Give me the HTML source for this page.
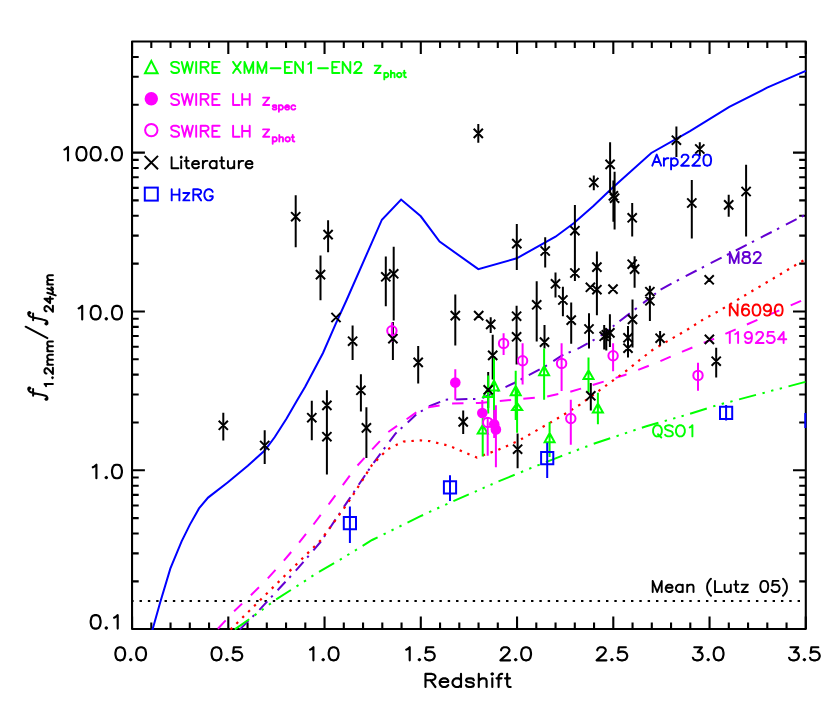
<!DOCTYPE html>
<html><head><meta charset="utf-8"><title>chart</title><style>html,body{margin:0;padding:0;background:#fff}svg{display:block}</style></head><body>
<svg width="830" height="713" viewBox="0 0 830 713">
<title>f1.2mm/f24um versus Redshift</title>
<desc>Log plot of f_1.2mm / f_24um (0.1 to 500) versus Redshift (0.0 to 3.5). Legend: SWIRE XMM-EN1-EN2 z_phot (green triangles), SWIRE LH z_spec (filled magenta circles), SWIRE LH z_phot (open magenta circles), Literature (black crosses), HzRG (blue squares). Template curves: Arp220, M82, N6090, I19254, QSO1. Dotted line: Mean (Lutz 05).</desc>
<rect width="830" height="713" fill="#fff"/>
<defs><clipPath id="c"><rect x="131.1" y="40.5" width="675.8" height="589.5"/></clipPath></defs>
<path d="M132.05 41.5v12.4M132.05 629.0v-12.4M151.30 41.5v6.4M151.30 629.0v-6.4M170.55 41.5v6.4M170.55 629.0v-6.4M189.80 41.5v6.4M189.80 629.0v-6.4M209.05 41.5v6.4M209.05 629.0v-6.4M228.30 41.5v12.4M228.30 629.0v-12.4M247.55 41.5v6.4M247.55 629.0v-6.4M266.80 41.5v6.4M266.80 629.0v-6.4M286.05 41.5v6.4M286.05 629.0v-6.4M305.30 41.5v6.4M305.30 629.0v-6.4M324.55 41.5v12.4M324.55 629.0v-12.4M343.80 41.5v6.4M343.80 629.0v-6.4M363.05 41.5v6.4M363.05 629.0v-6.4M382.30 41.5v6.4M382.30 629.0v-6.4M401.55 41.5v6.4M401.55 629.0v-6.4M420.80 41.5v12.4M420.80 629.0v-12.4M440.05 41.5v6.4M440.05 629.0v-6.4M459.30 41.5v6.4M459.30 629.0v-6.4M478.55 41.5v6.4M478.55 629.0v-6.4M497.80 41.5v6.4M497.80 629.0v-6.4M517.05 41.5v12.4M517.05 629.0v-12.4M536.30 41.5v6.4M536.30 629.0v-6.4M555.55 41.5v6.4M555.55 629.0v-6.4M574.80 41.5v6.4M574.80 629.0v-6.4M594.05 41.5v6.4M594.05 629.0v-6.4M613.30 41.5v12.4M613.30 629.0v-12.4M632.55 41.5v6.4M632.55 629.0v-6.4M651.80 41.5v6.4M651.80 629.0v-6.4M671.05 41.5v6.4M671.05 629.0v-6.4M690.30 41.5v6.4M690.30 629.0v-6.4M709.55 41.5v12.4M709.55 629.0v-12.4M728.80 41.5v6.4M728.80 629.0v-6.4M748.05 41.5v6.4M748.05 629.0v-6.4M767.30 41.5v6.4M767.30 629.0v-6.4M786.55 41.5v6.4M786.55 629.0v-6.4M805.80 41.5v12.4M805.80 629.0v-12.4M132.1 581.33h6.6M805.8 581.33h-6.6M132.1 553.36h6.6M805.8 553.36h-6.6M132.1 533.51h6.6M805.8 533.51h-6.6M132.1 518.12h6.6M805.8 518.12h-6.6M132.1 505.54h6.6M805.8 505.54h-6.6M132.1 494.91h6.6M805.8 494.91h-6.6M132.1 485.69h6.6M805.8 485.69h-6.6M132.1 477.57h6.6M805.8 477.57h-6.6M132.1 470.30h12.8M805.8 470.30h-12.8M132.1 422.48h6.6M805.8 422.48h-6.6M132.1 394.51h6.6M805.8 394.51h-6.6M132.1 374.66h6.6M805.8 374.66h-6.6M132.1 359.27h6.6M805.8 359.27h-6.6M132.1 346.69h6.6M805.8 346.69h-6.6M132.1 336.06h6.6M805.8 336.06h-6.6M132.1 326.84h6.6M805.8 326.84h-6.6M132.1 318.72h6.6M805.8 318.72h-6.6M132.1 311.45h12.8M805.8 311.45h-12.8M132.1 263.63h6.6M805.8 263.63h-6.6M132.1 235.66h6.6M805.8 235.66h-6.6M132.1 215.81h6.6M805.8 215.81h-6.6M132.1 200.42h6.6M805.8 200.42h-6.6M132.1 187.84h6.6M805.8 187.84h-6.6M132.1 177.21h6.6M805.8 177.21h-6.6M132.1 167.99h6.6M805.8 167.99h-6.6M132.1 159.87h6.6M805.8 159.87h-6.6M132.1 152.60h12.8M805.8 152.60h-12.8M132.1 104.78h6.6M805.8 104.78h-6.6M132.1 76.81h6.6M805.8 76.81h-6.6M132.1 56.96h6.6M805.8 56.96h-6.6" stroke="#000" stroke-width="2.1" fill="none"/>
<rect x="132.05" y="41.50" width="673.75" height="587.50" stroke="#000" stroke-width="2.1" fill="none" stroke-linejoin="round"/>
<g clip-path="url(#c)">
<path d="M131.2 601.0H806" stroke="#000" stroke-width="2.2" stroke-dasharray="2.4 5.93" fill="none"/>
<path d="M148.0 645.0 L152.9 628.3 L160.3 602.0 L170.4 568.4 L181.6 541.4 L189.9 524.6 L199.0 508.4 L208.1 497.6 L227.6 482.5 L247.8 465.7 L264.7 450.5 L274.8 437.0 L286.6 418.5 L297.3 400.0 L305.3 386.4 L323.0 353.0 L335.8 323.6 L346.6 300.0 L381.9 219.7 L401.1 199.6 L420.8 216.3 L439.6 241.6 L478.3 269.1 L516.8 258.3 L555.5 236.7 L574.0 223.0 L593.4 206.0 L612.0 188.3 L651.3 153.0 L690.0 131.2 L729.3 106.8 L767.1 87.7 L805.8 70.9" stroke="#0000ff" stroke-width="2.00" fill="none" />
<path d="M233.2 636.6L234.9 634.9M239.9 629.4L240.4 628.9L248.4 620.9M252.5 616.8L254.2 615.1M259.4 609.9L267.3 601.4M271.1 597.3L272.7 595.6M277.6 590.3L285.5 581.8M289.3 577.7L290.9 576.0M295.8 570.7L303.5 561.8M307.2 557.5L308.7 555.8M313.4 550.3L320.9 541.5M324.0 536.9L325.3 534.9M329.2 529.0L335.6 519.4M338.7 514.8L340.0 512.9M343.9 506.9L348.5 500.1L350.4 497.3M353.5 492.7L354.7 490.8M358.7 484.8L365.1 475.2M368.2 470.6L369.5 468.7M373.6 462.8L380.5 453.6M383.8 449.1L385.2 447.3M389.5 441.6L395.6 433.4L396.6 432.5M400.7 428.7L402.4 427.2M407.7 422.4L416.2 414.6M420.8 411.5L422.8 410.3M428.9 406.7L430.0 406.0L440.2 401.9M445.7 399.7L448.1 399.6M455.7 399.4L467.4 399.1M473.0 398.9L475.4 398.9M482.4 398.0L492.4 393.3M497.3 391.0L499.3 390.0M505.5 387.1L514.2 383.0L515.7 382.2M520.6 379.6L522.6 378.5M528.8 375.2L539.7 369.4M544.9 366.6L546.9 365.2M553.3 361.1L562.0 355.5L563.4 354.9M568.6 352.6L570.8 351.7M577.5 348.8L580.0 347.7L587.7 343.4M592.6 340.7L594.6 339.5M600.7 335.8L608.9 329.5M612.8 326.5L614.5 325.2M619.5 321.3L629.8 313.4M634.7 309.6L636.8 308.0M643.1 303.1L650.7 297.2M654.4 294.4L655.9 293.2M660.6 289.6L660.6 289.6L671.5 283.7M676.8 280.9L679.0 279.7M685.7 276.1L685.7 276.1L696.6 270.5M701.8 267.8L704.0 266.7M710.7 263.2L710.7 263.2L721.6 257.7M726.9 255.0L729.1 253.9M735.8 250.5L735.8 250.5L746.7 244.9M751.9 242.2L754.1 241.1M760.8 237.6L760.8 237.6L771.7 232.0M777.0 229.3L779.2 228.2M785.9 224.7L785.9 224.7L796.6 219.2M801.7 216.6L803.9 215.5" stroke="#6400d2" stroke-width="2.00" fill="none"/>
<path d="M207.5 639.0L209.1 637.4M217.9 628.8L225.7 620.4M234.1 611.3L242.1 603.6M250.9 595.2L259.0 587.2M267.8 578.4L275.5 569.9M283.9 560.6L291.2 552.0M299.1 542.6L306.0 533.9M313.5 524.5L320.7 514.9M328.6 504.5L330.0 502.7L335.4 495.3M342.8 485.2L349.8 475.7M357.5 465.5L364.5 457.8M372.2 449.4L379.9 441.1M388.3 432.0L397.1 425.9M406.6 419.2L416.3 412.4M428.2 407.6L430.0 406.9L439.6 405.4M452.1 403.6L463.5 403.3M475.9 403.1L478.9 403.0L487.4 402.2M499.8 401.0L511.1 400.0M523.3 398.8L534.8 397.7M547.2 396.4L558.3 394.1M570.3 391.7L580.0 388.9L581.1 388.6M592.7 385.0L603.7 381.6M615.6 377.9L624.8 375.0L626.5 374.3M638.2 369.9L638.2 369.9L648.8 365.7M660.4 361.2L660.4 361.2L670.7 356.7M682.0 351.9L682.4 351.7L692.4 347.5M703.7 342.8L704.2 342.6L714.1 338.7M725.4 333.9L735.7 329.3M746.9 324.5L757.4 319.9M768.8 314.9L779.3 310.3M790.7 305.3L801.1 300.8L801.1 300.8" stroke="#ff00ff" stroke-width="2.00" fill="none"/>
<path d="M224.6 635.4L226.3 633.7M230.5 629.5L231.0 629.0L232.2 627.8M236.4 623.7L238.1 622.0M242.3 617.8L244.0 616.1M248.2 612.0L249.9 610.3M254.1 606.1L255.8 604.5M260.0 600.3L261.7 598.6M265.9 594.5L267.6 592.8M271.8 588.6L273.5 586.9M277.7 582.8L279.4 581.1M283.6 576.9L285.3 575.3M289.6 571.1L291.3 569.4M295.5 565.3L297.2 563.6M301.4 559.4L303.1 557.7M307.3 553.6L309.0 551.9M313.2 547.7L314.9 546.1M319.1 541.9L320.8 540.2M324.3 535.5L325.7 533.5M329.2 528.7L330.6 526.8M334.0 522.0L335.5 520.1M338.9 515.3L340.3 513.4M343.8 508.6L345.2 506.6M348.7 501.8L349.9 499.8M353.1 494.8L354.4 492.8M357.5 487.8L358.8 485.8M362.0 480.8L363.3 478.8M366.4 473.8L367.7 471.7M370.9 466.7L372.1 464.8L372.2 464.7M376.3 460.6L378.0 458.9M382.2 454.7L383.9 453.0M388.2 448.9L390.3 447.9M395.7 445.3L397.8 444.3M403.2 441.8L403.5 441.6L405.5 441.4M411.4 441.0L413.8 440.8M419.7 440.3L420.0 440.3L422.1 440.5M428.0 441.0L430.0 441.2L430.3 441.3M436.1 442.6L438.4 443.2M444.2 444.6L446.5 445.1M452.1 447.0L454.3 447.9M459.7 450.2L461.9 451.2M467.3 453.5L469.5 454.4M475.0 456.8L476.9 457.6L477.2 457.5M482.7 455.5L485.0 454.6M490.5 452.6L492.8 451.8M498.3 449.8L498.5 449.7L500.5 448.8M505.9 446.4L508.1 445.4M513.5 443.0L515.7 442.0M521.0 439.3L523.0 438.2M528.2 435.2L530.3 434.1M535.4 431.1L537.5 429.9M542.6 427.0L544.7 425.8M549.8 422.9L551.9 421.7M557.0 418.7L559.0 417.5M564.1 414.5L564.9 414.0L566.2 413.2M571.2 410.1L573.2 408.8M578.2 405.7L580.0 404.6L580.3 404.4M585.0 400.9L587.0 399.5M591.7 396.0L593.7 394.6M598.5 391.1L600.4 389.7M605.2 386.2L607.1 384.8M611.9 381.4L613.8 379.9M618.6 376.5L620.5 375.0M625.3 371.6L625.8 371.2L627.2 370.1M631.8 366.4L633.7 364.9M638.3 361.2L639.2 360.4L640.1 359.7M644.8 356.0L646.7 354.5M651.3 350.9L652.5 350.0L653.3 349.5M658.4 346.5L660.4 345.3M665.5 342.3L666.7 341.6L667.6 341.1M672.7 338.1L674.8 336.9M679.9 334.0L682.0 332.8M687.1 329.8L688.0 329.3L689.2 328.5M694.1 325.3L696.1 324.0M701.1 320.8L702.0 320.2L703.1 319.6M708.3 316.7L710.4 315.6M715.6 312.7L717.7 311.6M722.8 308.6L724.9 307.4M730.0 304.3L732.0 303.1M737.1 300.1L739.2 298.8M744.2 295.8L746.3 294.6M751.4 291.5L753.4 290.3M758.5 287.3L760.6 286.1M765.6 283.0L767.7 281.8M772.8 278.8L774.8 277.5M779.9 274.5L782.0 273.3M787.0 270.2L789.1 269.0M794.2 266.0L796.2 264.7M801.3 261.7L803.4 260.5" stroke="#ff0000" stroke-width="2.20" fill="none"/>
<path d="M221.0 639.0L222.0 638.3M227.4 634.6L229.3 633.2M234.8 629.4L235.5 628.9L249.2 619.3M254.6 615.4L256.5 613.9M261.7 610.1L263.6 608.7M268.9 604.8L270.8 603.4M276.2 599.4L290.9 590.0M296.5 586.4L298.5 585.1M303.9 581.6L306.0 580.3M311.4 576.7L313.4 575.4M319.0 571.8L334.1 563.2M339.8 559.8L341.8 558.6M347.3 555.2L349.4 554.0M354.9 550.6L356.1 549.9L356.9 549.4M362.6 545.9L372.1 540.0L377.6 537.3M383.6 534.4L385.7 533.3M391.5 530.5L393.6 529.4M399.4 526.6L401.5 525.5M407.5 522.6L420.0 516.4L423.1 515.0M429.1 512.2L431.3 511.2M437.2 508.5L439.3 507.5M445.2 504.9L447.4 503.9M453.4 501.1L468.8 494.4M474.8 491.8L476.9 490.8M482.6 488.3L484.7 487.4M490.5 484.9L492.6 484.0M498.5 481.4L514.7 474.8M520.9 472.2L523.2 471.3M529.2 468.8L531.4 467.9M537.4 465.5L537.8 465.3L539.7 464.6M545.9 462.1L560.0 456.6L562.2 455.7M568.5 453.4L570.8 452.5M576.8 450.2L579.1 449.3M585.2 447.0L587.4 446.2M593.7 443.8L610.2 438.3M616.5 436.2L618.8 435.4M624.9 433.4L627.2 432.6M633.3 430.6L635.6 429.8M641.9 427.7L646.4 426.2L658.4 422.8M664.7 421.0L667.0 420.4M673.1 418.6L675.4 418.0M681.5 416.2L683.8 415.6M690.1 413.8L706.8 408.5M713.2 406.4L715.4 405.7M721.7 404.0L724.0 403.3M730.3 401.7L732.6 401.1M739.1 399.4L756.0 394.9M762.5 393.2L764.8 392.6M771.1 390.9L773.4 390.3M779.7 388.7L782.0 388.1M788.5 386.4L805.4 381.9" stroke="#00ff00" stroke-width="2.00" fill="none"/>
<path d="M223.3 412.8V440.4M264.7 430.3V464.0M295.7 195.3V247.3M328.1 220.2V252.2M320.5 255.6V300.3M352.6 325.5V359.9M385.8 256.6V306.2M393.7 246.7V320.4M392.9 322.1V359.9M418.2 346.1V383.4M360.9 374.2V411.6M326.9 390.3V474.6M311.8 400.8V440.2M366.4 407.2V457.9M478.3 124.1V142.8M516.8 223.9V270.1M545.2 237.3V267.5M574.9 205.0V281.0M555.5 272.6V297.5M562.9 286.7V316.2M571.2 302.5V343.7M536.7 281.2V341.5M455.3 294.6V345.5M490.7 317.2V332.9M516.6 305.8V364.4M544.5 325.0V348.6M492.7 334.8V379.6M488.2 372.0V408.0M463.2 410.5V434.0M517.6 433.5V468.3M593.8 175.6V190.3M610.1 142.2V192.0M613.4 180.5V221.7M614.6 171.7V229.5M632.2 203.1V236.5M676.4 126.5V156.9M699.8 142.2V156.0M691.8 180.1V238.5M728.7 194.8V216.7M746.1 164.8V236.4M596.9 251.4V315.3M634.6 256.3V287.7M649.9 285.8V321.0M589.0 313.2V348.6M604.2 325.0V349.6M606.3 328.5V350.5M609.9 314.2V347.0M632.5 299.5V347.6M628.0 326.0V357.4M660.1 330.9V345.7M716.2 347.8V377.6M590.8 383.0V410.5" stroke="#000" stroke-width="2" fill="none"/>
<path d="M494.0 358.1V418.4M494.0 380.5L499.0 390.5L489.0 390.5ZM482.7 414.0V456.5M482.7 425.0L487.7 433.6L477.7 433.6ZM488.2 375.4V413.6M488.2 388.0L493.2 397.0L483.2 397.0ZM515.7 370.8V420.0M515.7 386.0L520.7 395.2L510.7 395.2ZM517.1 390.0V432.7M517.1 402.9L522.1 410.0L512.1 410.0ZM544.1 348.6V399.7M544.1 366.0L549.1 375.3L539.1 375.3ZM549.6 421.9V457.0M549.6 433.0L554.6 442.3L544.6 442.3ZM588.5 357.5V392.8M588.5 370.2L593.5 379.1L583.5 379.1ZM597.9 392.8V424.2M597.9 403.6L602.9 412.4L592.9 412.4Z" stroke="#00ff00" stroke-width="2" fill="none" stroke-linejoin="miter"/>
<path d="M391.9 322.6V341.4M503.6 333.2V355.0M522.6 343.3V384.6M561.6 343.3V391.0M613.1 343.3V371.2M570.8 399.7V444.8M698.0 362.7V390.8M487.7 417.5V455.7" stroke="#ff00ff" stroke-width="2" fill="none"/>
<circle cx="391.9" cy="330.8" r="4.7" stroke="#ff00ff" stroke-width="2" fill="none"/>
<circle cx="503.6" cy="343.4" r="4.7" stroke="#ff00ff" stroke-width="2" fill="none"/>
<circle cx="522.6" cy="360.8" r="4.7" stroke="#ff00ff" stroke-width="2" fill="none"/>
<circle cx="561.6" cy="363.4" r="4.7" stroke="#ff00ff" stroke-width="2" fill="none"/>
<circle cx="613.1" cy="355.7" r="4.7" stroke="#ff00ff" stroke-width="2" fill="none"/>
<circle cx="570.8" cy="418.5" r="4.7" stroke="#ff00ff" stroke-width="2" fill="none"/>
<circle cx="698.0" cy="375.4" r="4.7" stroke="#ff00ff" stroke-width="2" fill="none"/>
<circle cx="487.7" cy="422.4" r="4.7" stroke="#ff00ff" stroke-width="2" fill="none"/>
<path d="M455.3 369.3V399.7M482.3 399.9V418.0M494.2 410.0V438.0M495.9 405.3V467.3" stroke="#ff00ff" stroke-width="2" fill="none"/>
<circle cx="455.3" cy="382.6" r="5.3" fill="#ff00ff"/>
<circle cx="482.3" cy="413.0" r="5.3" fill="#ff00ff"/>
<circle cx="494.2" cy="424.3" r="5.3" fill="#ff00ff"/>
<circle cx="495.9" cy="429.4" r="5.3" fill="#ff00ff"/>
<path d="M218.7 420.7l9.2 9.2M218.7 429.9l9.2 -9.2M260.1 440.9l9.2 9.2M260.1 450.1l9.2 -9.2M291.1 212.1l9.2 9.2M291.1 221.3l9.2 -9.2M323.5 230.0l9.2 9.2M323.5 239.2l9.2 -9.2M315.9 270.0l9.2 9.2M315.9 279.2l9.2 -9.2M331.4 312.9l9.2 9.2M331.4 322.1l9.2 -9.2M348.0 336.6l9.2 9.2M348.0 345.8l9.2 -9.2M381.2 272.2l9.2 9.2M381.2 281.4l9.2 -9.2M389.1 269.2l9.2 9.2M389.1 278.4l9.2 -9.2M388.3 334.1l9.2 9.2M388.3 343.3l9.2 -9.2M413.6 357.8l9.2 9.2M413.6 367.0l9.2 -9.2M356.3 385.7l9.2 9.2M356.3 394.9l9.2 -9.2M322.3 400.8l9.2 9.2M322.3 410.0l9.2 -9.2M307.2 413.1l9.2 9.2M307.2 422.3l9.2 -9.2M322.3 432.1l9.2 9.2M322.3 441.3l9.2 -9.2M361.8 423.3l9.2 9.2M361.8 432.5l9.2 -9.2M473.7 128.8l9.2 9.2M473.7 138.0l9.2 -9.2M512.2 239.0l9.2 9.2M512.2 248.2l9.2 -9.2M540.6 246.4l9.2 9.2M540.6 255.6l9.2 -9.2M570.3 226.1l9.2 9.2M570.3 235.3l9.2 -9.2M570.3 268.4l9.2 9.2M570.3 277.6l9.2 -9.2M550.9 279.2l9.2 9.2M550.9 288.4l9.2 -9.2M558.3 295.4l9.2 9.2M558.3 304.6l9.2 -9.2M566.6 315.5l9.2 9.2M566.6 324.7l9.2 -9.2M532.1 300.2l9.2 9.2M532.1 309.4l9.2 -9.2M450.7 311.0l9.2 9.2M450.7 320.2l9.2 -9.2M474.1 311.0l9.2 9.2M474.1 320.2l9.2 -9.2M486.1 319.8l9.2 9.2M486.1 329.0l9.2 -9.2M512.0 311.6l9.2 9.2M512.0 320.8l9.2 -9.2M512.0 332.2l9.2 9.2M512.0 341.4l9.2 -9.2M539.9 337.5l9.2 9.2M539.9 346.7l9.2 -9.2M488.1 350.8l9.2 9.2M488.1 360.0l9.2 -9.2M483.6 385.2l9.2 9.2M483.6 394.4l9.2 -9.2M458.6 417.3l9.2 9.2M458.6 426.5l9.2 -9.2M513.0 444.6l9.2 9.2M513.0 453.8l9.2 -9.2M589.2 177.9l9.2 9.2M589.2 187.1l9.2 -9.2M605.5 159.8l9.2 9.2M605.5 169.0l9.2 -9.2M608.8 191.2l9.2 9.2M608.8 200.4l9.2 -9.2M610.0 193.6l9.2 9.2M610.0 202.8l9.2 -9.2M627.6 213.2l9.2 9.2M627.6 222.4l9.2 -9.2M671.8 135.6l9.2 9.2M671.8 144.8l9.2 -9.2M695.2 144.4l9.2 9.2M695.2 153.6l9.2 -9.2M687.2 198.4l9.2 9.2M687.2 207.6l9.2 -9.2M724.1 200.3l9.2 9.2M724.1 209.5l9.2 -9.2M741.5 186.9l9.2 9.2M741.5 196.1l9.2 -9.2M592.3 262.5l9.2 9.2M592.3 271.7l9.2 -9.2M592.3 285.1l9.2 9.2M592.3 294.3l9.2 -9.2M585.8 282.7l9.2 9.2M585.8 291.9l9.2 -9.2M608.4 284.5l9.2 9.2M608.4 293.7l9.2 -9.2M627.6 259.6l9.2 9.2M627.6 268.8l9.2 -9.2M630.0 264.5l9.2 9.2M630.0 273.7l9.2 -9.2M645.3 287.1l9.2 9.2M645.3 296.3l9.2 -9.2M645.3 296.2l9.2 9.2M645.3 305.4l9.2 -9.2M704.6 275.2l9.2 9.2M704.6 284.4l9.2 -9.2M584.4 324.4l9.2 9.2M584.4 333.6l9.2 -9.2M599.6 331.7l9.2 9.2M599.6 340.9l9.2 -9.2M601.7 330.2l9.2 9.2M601.7 339.4l9.2 -9.2M605.3 328.3l9.2 9.2M605.3 337.5l9.2 -9.2M627.9 314.8l9.2 9.2M627.9 324.0l9.2 -9.2M623.4 333.2l9.2 9.2M623.4 342.4l9.2 -9.2M623.4 343.6l9.2 9.2M623.4 352.8l9.2 -9.2M655.5 333.6l9.2 9.2M655.5 342.8l9.2 -9.2M704.8 334.8l9.2 9.2M704.8 344.0l9.2 -9.2M711.6 356.6l9.2 9.2M711.6 365.8l9.2 -9.2M586.2 391.2l9.2 9.2M586.2 400.4l9.2 -9.2" stroke="#000" stroke-width="2" fill="none"/>
<path d="M349.9 506.5V543.0M343.8 517.0h12.2v12.2h-12.2ZM450.0 475.2V501.1M443.9 481.2h12.2v12.2h-12.2ZM547.2 442.8V478.1M541.1 452.0h12.2v12.2h-12.2ZM726.1 405.0V420.6M720.0 406.7h12.2v12.2h-12.2ZM805.3 413V428" stroke="#0000ff" stroke-width="2" fill="none"/>
</g>
<path d="M115.4 654.7L116.1 657.8L117.5 659.7L119.6 660.3L120.9 660.3L123.0 659.7L124.4 657.8L125.1 654.7L125.1 652.8L124.4 649.7L123.0 647.9L120.9 647.2L119.6 647.2L117.5 647.9L116.1 649.7L115.4 652.8L115.4 654.7M130.0 659.7L130.7 660.3L131.4 659.7L130.7 659.1L130.0 659.7M136.2 654.7L136.9 657.8L138.3 659.7L140.4 660.3L141.8 660.3L143.9 659.7L145.3 657.8L146.0 654.7L146.0 652.8L145.3 649.7L143.9 647.9L141.8 647.2L140.4 647.2L138.3 647.9L136.9 649.7L136.2 652.8L136.2 654.7" stroke="#000" stroke-width="2.15" fill="none" stroke-linecap="round" stroke-linejoin="round"/>
<path d="M211.6 654.7L212.3 657.8L213.7 659.7L215.8 660.3L217.2 660.3L219.3 659.7L220.7 657.8L221.4 654.7L221.4 652.8L220.7 649.7L219.3 647.9L217.2 647.2L215.8 647.2L213.7 647.9L212.3 649.7L211.6 652.8L211.6 654.7M226.2 659.7L226.9 660.3L227.6 659.7L226.9 659.1L226.2 659.7M240.8 647.2L233.9 647.2L233.2 652.8L233.9 652.2L236.0 651.6L238.0 651.6L240.1 652.2L241.5 653.5L242.2 655.3L242.2 656.6L241.5 658.4L240.1 659.7L238.0 660.3L236.0 660.3L233.9 659.7L233.2 659.1L232.5 657.8" stroke="#000" stroke-width="2.15" fill="none" stroke-linecap="round" stroke-linejoin="round"/>
<path d="M310.0 649.7L311.4 649.1L313.4 647.2L313.4 660.3M322.5 659.7L323.2 660.3L323.9 659.7L323.2 659.1L322.5 659.7M328.7 654.7L329.4 657.8L330.8 659.7L332.9 660.3L334.3 660.3L336.4 659.7L337.8 657.8L338.5 654.7L338.5 652.8L337.8 649.7L336.4 647.9L334.3 647.2L332.9 647.2L330.8 647.9L329.4 649.7L328.7 652.8L328.7 654.7" stroke="#000" stroke-width="2.15" fill="none" stroke-linecap="round" stroke-linejoin="round"/>
<path d="M406.2 649.7L407.6 649.1L409.7 647.2L409.7 660.3M418.7 659.7L419.4 660.3L420.1 659.7L419.4 659.1L418.7 659.7M433.3 647.2L426.4 647.2L425.7 652.8L426.4 652.2L428.5 651.6L430.5 651.6L432.6 652.2L434.0 653.5L434.7 655.3L434.7 656.6L434.0 658.4L432.6 659.7L430.5 660.3L428.5 660.3L426.4 659.7L425.7 659.1L425.0 657.8" stroke="#000" stroke-width="2.15" fill="none" stroke-linecap="round" stroke-linejoin="round"/>
<path d="M501.1 650.3L501.1 649.7L501.8 648.5L502.5 647.9L503.9 647.2L506.6 647.2L508.0 647.9L508.7 648.5L509.4 649.7L509.4 651.0L508.7 652.2L507.3 654.1L500.4 660.3L510.1 660.3M515.0 659.7L515.7 660.3L516.4 659.7L515.7 659.1L515.0 659.7M521.2 654.7L521.9 657.8L523.3 659.7L525.4 660.3L526.8 660.3L528.9 659.7L530.3 657.8L531.0 654.7L531.0 652.8L530.3 649.7L528.9 647.9L526.8 647.2L525.4 647.2L523.3 647.9L521.9 649.7L521.2 652.8L521.2 654.7" stroke="#000" stroke-width="2.15" fill="none" stroke-linecap="round" stroke-linejoin="round"/>
<path d="M597.3 650.3L597.3 649.7L598.0 648.5L598.7 647.9L600.1 647.2L602.9 647.2L604.3 647.9L605.0 648.5L605.7 649.7L605.7 651.0L605.0 652.2L603.6 654.1L596.6 660.3L606.4 660.3M611.2 659.7L611.9 660.3L612.6 659.7L611.9 659.1L611.2 659.7M625.8 647.2L618.9 647.2L618.2 652.8L618.9 652.2L621.0 651.6L623.0 651.6L625.1 652.2L626.5 653.5L627.2 655.3L627.2 656.6L626.5 658.4L625.1 659.7L623.0 660.3L621.0 660.3L618.9 659.7L618.2 659.1L617.5 657.8" stroke="#000" stroke-width="2.15" fill="none" stroke-linecap="round" stroke-linejoin="round"/>
<path d="M694.3 647.2L701.9 647.2L697.8 652.2L699.8 652.2L701.2 652.8L701.9 653.5L702.6 655.3L702.6 656.6L701.9 658.4L700.5 659.7L698.4 660.3L696.4 660.3L694.3 659.7L693.6 659.1L692.9 657.8M707.5 659.7L708.2 660.3L708.9 659.7L708.2 659.1L707.5 659.7M713.7 654.7L714.4 657.8L715.8 659.7L717.9 660.3L719.3 660.3L721.4 659.7L722.8 657.8L723.5 654.7L723.5 652.8L722.8 649.7L721.4 647.9L719.3 647.2L717.9 647.2L715.8 647.9L714.4 649.7L713.7 652.8L713.7 654.7" stroke="#000" stroke-width="2.15" fill="none" stroke-linecap="round" stroke-linejoin="round"/>
<path d="M790.5 647.2L798.2 647.2L794.0 652.2L796.1 652.2L797.5 652.8L798.2 653.5L798.9 655.3L798.9 656.6L798.2 658.4L796.8 659.7L794.7 660.3L792.6 660.3L790.5 659.7L789.8 659.1L789.1 657.8M803.7 659.7L804.4 660.3L805.1 659.7L804.4 659.1L803.7 659.7M818.3 647.2L811.4 647.2L810.7 652.8L811.4 652.2L813.5 651.6L815.5 651.6L817.6 652.2L819.0 653.5L819.7 655.3L819.7 656.6L819.0 658.4L817.6 659.7L815.5 660.3L813.5 660.3L811.4 659.7L810.7 659.1L810.0 657.8" stroke="#000" stroke-width="2.15" fill="none" stroke-linecap="round" stroke-linejoin="round"/>
<path d="M64.4 149.6L65.8 148.9L68.0 147.0L68.0 160.5M76.5 154.7L77.2 157.9L78.6 159.9L80.7 160.5L82.2 160.5L84.3 159.9L85.7 157.9L86.4 154.7L86.4 152.8L85.7 149.6L84.3 147.6L82.2 147.0L80.7 147.0L78.6 147.6L77.2 149.6L76.5 152.8L76.5 154.7M90.7 154.7L91.4 157.9L92.8 159.9L94.9 160.5L96.4 160.5L98.5 159.9L99.9 157.9L100.6 154.7L100.6 152.8L99.9 149.6L98.5 147.6L96.4 147.0L94.9 147.0L92.8 147.6L91.4 149.6L90.7 152.8L90.7 154.7M105.6 159.9L106.3 160.5L107.0 159.9L106.3 159.2L105.6 159.9M112.0 154.7L112.7 157.9L114.1 159.9L116.2 160.5L117.7 160.5L119.8 159.9L121.2 157.9L121.9 154.7L121.9 152.8L121.2 149.6L119.8 147.6L117.7 147.0L116.2 147.0L114.1 147.6L112.7 149.6L112.0 152.8L112.0 154.7" stroke="#000" stroke-width="2.15" fill="none" stroke-linecap="round" stroke-linejoin="round"/>
<path d="M78.6 308.4L80.0 307.8L82.2 305.8L82.2 319.4M90.7 313.6L91.4 316.8L92.8 318.7L94.9 319.4L96.4 319.4L98.5 318.7L99.9 316.8L100.6 313.6L100.6 311.6L99.9 308.4L98.5 306.5L96.4 305.8L94.9 305.8L92.8 306.5L91.4 308.4L90.7 311.6L90.7 313.6M105.6 318.7L106.3 319.4L107.0 318.7L106.3 318.1L105.6 318.7M112.0 313.6L112.7 316.8L114.1 318.7L116.2 319.4L117.7 319.4L119.8 318.7L121.2 316.8L121.9 313.6L121.9 311.6L121.2 308.4L119.8 306.5L117.7 305.8L116.2 305.8L114.1 306.5L112.7 308.4L112.0 311.6L112.0 313.6" stroke="#000" stroke-width="2.15" fill="none" stroke-linecap="round" stroke-linejoin="round"/>
<path d="M92.8 467.3L94.2 466.6L96.4 464.7L96.4 478.2M105.6 477.6L106.3 478.2L107.0 477.6L106.3 476.9L105.6 477.6M112.0 472.4L112.7 475.6L114.1 477.6L116.2 478.2L117.7 478.2L119.8 477.6L121.2 475.6L121.9 472.4L121.9 470.5L121.2 467.3L119.8 465.3L117.7 464.7L116.2 464.7L114.1 465.3L112.7 467.3L112.0 470.5L112.0 472.4" stroke="#000" stroke-width="2.15" fill="none" stroke-linecap="round" stroke-linejoin="round"/>
<path d="M90.7 622.8L91.4 626.0L92.8 628.0L94.9 628.6L96.4 628.6L98.5 628.0L99.9 626.0L100.6 622.8L100.6 620.9L99.9 617.7L98.5 615.7L96.4 615.1L94.9 615.1L92.8 615.7L91.4 617.7L90.7 620.9L90.7 622.8M105.6 628.0L106.3 628.6L107.0 628.0L106.3 627.3L105.6 628.0M114.1 617.7L115.5 617.0L117.7 615.1L117.7 628.6" stroke="#000" stroke-width="2.15" fill="none" stroke-linecap="round" stroke-linejoin="round"/>
<path d="M425.5 680.2L425.5 673.9L431.9 673.9L434.0 674.6L434.7 675.2L435.4 676.4L435.4 677.7L434.7 678.9L434.0 679.5L431.9 680.2L430.4 680.2L425.5 680.2L425.5 687.0M430.4 680.2L435.4 687.0M448.2 685.1L446.8 686.4L445.4 687.0L443.2 687.0L441.8 686.4L440.4 685.1L439.7 683.3L439.7 682.0L440.4 680.2L441.8 678.9L443.2 678.3L445.4 678.3L446.8 678.9L447.5 679.5L448.2 680.8L448.2 682.0L439.7 682.0M461.0 685.1L459.6 686.4L458.2 687.0L456.0 687.0L454.6 686.4L453.2 685.1L452.5 683.3L452.5 682.0L453.2 680.2L454.6 678.9L456.0 678.3L458.2 678.3L459.6 678.9L461.0 680.2L461.0 685.1L461.0 687.0M461.0 680.2L461.0 673.9M473.8 680.2L473.1 678.9L470.9 678.3L468.8 678.3L466.7 678.9L466.0 680.2L466.7 681.4L468.1 682.0L471.7 682.6L473.1 683.3L473.8 684.5L473.8 685.1L473.1 686.4L470.9 687.0L468.8 687.0L466.7 686.4L466.0 685.1M478.8 673.9L478.8 680.8L478.8 687.0M478.8 680.8L480.9 678.9L482.3 678.3L484.4 678.3L485.9 678.9L486.6 680.8L486.6 687.0M492.3 678.3L492.3 687.0M491.5 673.9L492.3 674.6L493.0 673.9L492.3 673.3L491.5 673.9M498.6 687.0L498.6 678.3L498.6 676.4L499.4 674.6L500.8 673.9L502.2 673.9M501.5 678.3L498.6 678.3L496.5 678.3M507.2 673.9L507.2 678.3L507.2 684.5L507.9 686.4L509.3 687.0L510.7 687.0M510.0 678.3L507.2 678.3L505.0 678.3" stroke="#000" stroke-width="2.15" fill="none" stroke-linecap="round" stroke-linejoin="round"/>
<path d="M661.7 592.0L661.7 580.9L657.2 592.0L652.7 580.9L652.7 592.0M672.5 590.4L671.4 591.5L670.2 592.0L668.5 592.0L667.4 591.5L666.3 590.4L665.7 588.8L665.7 587.8L666.3 586.2L667.4 585.1L668.5 584.6L670.2 584.6L671.4 585.1L671.9 585.6L672.5 586.7L672.5 587.8L665.7 587.8M682.7 590.4L681.6 591.5L680.4 592.0L678.7 592.0L677.6 591.5L676.5 590.4L675.9 588.8L675.9 587.8L676.5 586.2L677.6 585.1L678.7 584.6L680.4 584.6L681.6 585.1L682.7 586.2L682.7 590.4L682.7 592.0M682.7 586.2L682.7 584.6M687.2 586.7L687.2 584.6M687.2 592.0L687.2 586.7L688.9 585.1L690.1 584.6L691.8 584.6L692.9 585.1L693.5 586.7L693.5 592.0M711.0 595.7L709.9 594.6L708.8 593.1L707.6 590.9L707.1 588.3L707.1 586.2L707.6 583.5L708.8 581.4L709.9 579.8L711.0 578.8M721.8 592.0L715.0 592.0L715.0 580.9M730.8 584.6L730.8 589.9L730.8 592.0M730.8 589.9L729.1 591.5L728.0 592.0L726.3 592.0L725.2 591.5L724.6 589.9L724.6 584.6M735.9 580.9L735.9 584.6L735.9 589.9L736.5 591.5L737.6 592.0L738.8 592.0M738.2 584.6L735.9 584.6L734.2 584.6M747.8 592.0L741.6 592.0L747.8 584.6L741.6 584.6M760.3 587.2L760.9 589.9L762.0 591.5L763.7 592.0L764.8 592.0L766.5 591.5L767.7 589.9L768.2 587.2L768.2 585.6L767.7 583.0L766.5 581.4L764.8 580.9L763.7 580.9L762.0 581.4L760.9 583.0L760.3 585.6L760.3 587.2M778.4 580.9L772.8 580.9L772.2 585.6L772.8 585.1L774.5 584.6L776.2 584.6L777.9 585.1L779.0 586.2L779.6 587.8L779.6 588.8L779.0 590.4L777.9 591.5L776.2 592.0L774.5 592.0L772.8 591.5L772.2 590.9L771.6 589.9M783.0 595.7L784.1 594.6L785.2 593.1L786.4 590.9L786.9 588.3L786.9 586.2L786.4 583.5L785.2 581.4L784.1 579.8L783.0 578.8" stroke="#000" stroke-width="1.92" fill="none" stroke-linecap="round" stroke-linejoin="round"/>
<path d="M653.9 162.0L659.5 162.0M661.1 165.7L656.7 154.6L652.3 165.7M663.9 161.5L664.5 159.9L665.6 158.8L666.7 158.3L668.4 158.3M663.9 165.7L663.9 161.5L663.9 158.3M671.1 158.3L671.1 159.9L671.1 164.1L671.1 169.4M671.1 159.9L672.3 158.8L673.4 158.3L675.0 158.3L676.1 158.8L677.3 159.9L677.8 161.5L677.8 162.5L677.3 164.1L676.1 165.2L675.0 165.7L673.4 165.7L672.3 165.2L671.1 164.1M681.7 157.2L681.7 156.7L682.3 155.6L682.8 155.1L683.9 154.6L686.1 154.6L687.3 155.1L687.8 155.6L688.4 156.7L688.4 157.8L687.8 158.8L686.7 160.4L681.1 165.7L688.9 165.7M692.8 157.2L692.8 156.7L693.4 155.6L693.9 155.1L695.0 154.6L697.3 154.6L698.4 155.1L698.9 155.6L699.5 156.7L699.5 157.8L698.9 158.8L697.8 160.4L692.3 165.7L700.0 165.7M703.4 160.9L703.9 163.6L705.0 165.2L706.7 165.7L707.8 165.7L709.5 165.2L710.6 163.6L711.1 160.9L711.1 159.3L710.6 156.7L709.5 155.1L707.8 154.6L706.7 154.6L705.0 155.1L703.9 156.7L703.4 159.3L703.4 160.9" stroke="#0000ff" stroke-width="1.92" fill="none" stroke-linecap="round" stroke-linejoin="round"/>
<path d="M738.6 263.1L738.6 252.0L734.2 263.1L729.8 252.0L729.8 263.1M749.0 255.7L749.6 254.6L749.6 253.6L749.0 252.5L747.4 252.0L745.2 252.0L743.5 252.5L743.0 253.6L743.0 254.6L743.5 255.7L744.6 256.2L746.8 256.7L748.5 257.3L749.6 258.3L750.1 259.4L750.1 261.0L749.6 262.0L749.0 262.6L747.4 263.1L745.2 263.1L743.5 262.6L743.0 262.0L742.4 261.0L742.4 259.4L743.0 258.3L744.1 257.3L745.7 256.7L747.9 256.2L749.0 255.7M754.0 254.6L754.0 254.1L754.5 253.0L755.1 252.5L756.2 252.0L758.4 252.0L759.5 252.5L760.0 253.0L760.6 254.1L760.6 255.2L760.0 256.2L758.9 257.8L753.4 263.1L761.1 263.1" stroke="#6400d2" stroke-width="1.92" fill="none" stroke-linecap="round" stroke-linejoin="round"/>
<path d="M737.6 304.5L737.6 315.6L729.8 304.5L729.8 315.6M742.0 311.9L742.0 309.2L742.6 306.6L743.7 305.0L745.3 304.5L746.5 304.5L748.1 305.0L748.7 306.1M745.3 308.7L745.9 308.7L747.6 309.2L748.7 310.3L749.2 311.9L749.2 312.4L748.7 314.0L747.6 315.1L745.9 315.6L745.3 315.6L743.7 315.1L742.6 314.0L742.0 311.9L742.6 310.3L743.7 309.2L745.3 308.7M752.6 310.8L753.1 313.5L754.3 315.1L755.9 315.6L757.0 315.6L758.7 315.1L759.8 313.5L760.4 310.8L760.4 309.2L759.8 306.6L758.7 305.0L757.0 304.5L755.9 304.5L754.3 305.0L753.1 306.6L752.6 309.2L752.6 310.8M764.3 314.0L764.8 315.1L766.5 315.6L767.6 315.6L769.3 315.1L770.4 313.5L771.0 310.8L771.0 308.2L770.4 306.1L769.3 305.0L767.6 304.5L767.1 304.5L765.4 305.0L764.3 306.1L763.7 307.7L763.7 308.2L764.3 309.8L765.4 310.8L767.1 311.4L767.6 311.4L769.3 310.8L770.4 309.8L771.0 308.2M774.8 310.8L775.4 313.5L776.5 315.1L778.2 315.6L779.3 315.6L781.0 315.1L782.1 313.5L782.6 310.8L782.6 309.2L782.1 306.6L781.0 305.0L779.3 304.5L778.2 304.5L776.5 305.0L775.4 306.6L774.8 309.2L774.8 310.8" stroke="#ff0000" stroke-width="1.92" fill="none" stroke-linecap="round" stroke-linejoin="round"/>
<path d="M729.8 331.9L729.8 343.0M735.3 334.0L736.4 333.5L738.1 331.9L738.1 343.0M745.3 341.4L745.8 342.5L747.5 343.0L748.6 343.0L750.3 342.5L751.4 340.9L751.9 338.2L751.9 335.6L751.4 333.5L750.3 332.4L748.6 331.9L748.1 331.9L746.4 332.4L745.3 333.5L744.7 335.1L744.7 335.6L745.3 337.2L746.4 338.2L748.1 338.8L748.6 338.8L750.3 338.2L751.4 337.2L751.9 335.6M756.4 334.5L756.4 334.0L756.9 332.9L757.5 332.4L758.6 331.9L760.8 331.9L761.9 332.4L762.5 332.9L763.0 334.0L763.0 335.1L762.5 336.1L761.4 337.7L755.8 343.0L763.6 343.0M773.6 331.9L768.0 331.9L767.5 336.6L768.0 336.1L769.7 335.6L771.4 335.6L773.0 336.1L774.1 337.2L774.7 338.8L774.7 339.8L774.1 341.4L773.0 342.5L771.4 343.0L769.7 343.0L768.0 342.5L767.5 341.9L766.9 340.9M783.6 343.0L783.6 339.3L783.6 331.9L778.0 339.3L783.6 339.3L786.3 339.3" stroke="#ff00ff" stroke-width="1.92" fill="none" stroke-linecap="round" stroke-linejoin="round"/>
<path d="M661.3 437.5L659.6 435.9L658.0 434.3M656.3 436.4L658.5 436.4L659.6 435.9L660.7 434.8L661.3 433.8L661.8 432.2L661.8 429.5L661.3 427.9L660.7 426.9L659.6 425.8L658.5 425.3L656.3 425.3L655.2 425.8L654.2 426.9L653.6 427.9L653.1 429.5L653.1 432.2L653.6 433.8L654.2 434.8L655.2 435.9L656.3 436.4M672.8 426.9L671.7 425.8L670.0 425.3L667.8 425.3L666.2 425.8L665.1 426.9L665.1 427.9L665.6 429.0L666.2 429.5L667.3 430.0L670.6 431.1L671.7 431.6L672.2 432.2L672.8 433.2L672.8 434.8L671.7 435.9L670.0 436.4L667.8 436.4L666.2 435.9L665.1 434.8M679.3 436.4L681.5 436.4L682.6 435.9L683.7 434.8L684.2 433.8L684.8 432.2L684.8 429.5L684.2 427.9L683.7 426.9L682.6 425.8L681.5 425.3L679.3 425.3L678.2 425.8L677.1 426.9L676.6 427.9L676.0 429.5L676.0 432.2L676.6 433.8L677.1 434.8L678.2 435.9L679.3 436.4M689.7 427.4L690.8 426.9L692.4 425.3L692.4 436.4" stroke="#00ff00" stroke-width="1.92" fill="none" stroke-linecap="round" stroke-linejoin="round"/>
<path d="M179.0 63.5L177.8 62.4L176.2 61.9L173.9 61.9L172.3 62.4L171.2 63.5L171.2 64.5L171.7 65.6L172.3 66.1L173.4 66.6L176.7 67.7L177.8 68.2L178.4 68.8L179.0 69.8L179.0 71.4L177.8 72.5L176.2 73.0L173.9 73.0L172.3 72.5L171.2 71.4M192.9 61.9L190.1 73.0L187.3 61.9L184.5 73.0L181.7 61.9M196.2 61.9L196.2 73.0M200.7 67.2L200.7 61.9L205.7 61.9L207.4 62.4L207.9 62.9L208.5 64.0L208.5 65.0L207.9 66.1L207.4 66.6L205.7 67.2L204.6 67.2L200.7 67.2L200.7 73.0M204.6 67.2L208.5 73.0M219.6 73.0L212.4 73.0L212.4 67.2L212.4 61.9L219.6 61.9M212.4 67.2L216.9 67.2" stroke="#00ff00" stroke-width="1.92" fill="none" stroke-linecap="round" stroke-linejoin="round"/>
<path d="M179.0 95.5L177.8 94.4L176.2 93.9L173.9 93.9L172.3 94.4L171.2 95.5L171.2 96.5L171.7 97.6L172.3 98.1L173.4 98.6L176.7 99.7L177.8 100.2L178.4 100.8L179.0 101.8L179.0 103.4L177.8 104.5L176.2 105.0L173.9 105.0L172.3 104.5L171.2 103.4M192.9 93.9L190.1 105.0L187.3 93.9L184.5 105.0L181.7 93.9M196.2 93.9L196.2 105.0M200.7 99.2L200.7 93.9L205.7 93.9L207.4 94.4L207.9 94.9L208.5 96.0L208.5 97.0L207.9 98.1L207.4 98.6L205.7 99.2L204.6 99.2L200.7 99.2L200.7 105.0M204.6 99.2L208.5 105.0M219.6 105.0L212.4 105.0L212.4 99.2L212.4 93.9L219.6 93.9M212.4 99.2L216.9 99.2" stroke="#ff00ff" stroke-width="1.92" fill="none" stroke-linecap="round" stroke-linejoin="round"/>
<path d="M179.0 127.3L177.8 126.2L176.2 125.7L173.9 125.7L172.3 126.2L171.2 127.3L171.2 128.3L171.7 129.4L172.3 129.9L173.4 130.4L176.7 131.5L177.8 132.0L178.4 132.6L179.0 133.6L179.0 135.2L177.8 136.3L176.2 136.8L173.9 136.8L172.3 136.3L171.2 135.2M192.9 125.7L190.1 136.8L187.3 125.7L184.5 136.8L181.7 125.7M196.2 125.7L196.2 136.8M200.7 131.0L200.7 125.7L205.7 125.7L207.4 126.2L207.9 126.7L208.5 127.8L208.5 128.9L207.9 129.9L207.4 130.4L205.7 131.0L204.6 131.0L200.7 131.0L200.7 136.8M204.6 131.0L208.5 136.8M219.6 136.8L212.4 136.8L212.4 131.0L212.4 125.7L219.6 125.7M212.4 131.0L216.9 131.0" stroke="#ff00ff" stroke-width="1.92" fill="none" stroke-linecap="round" stroke-linejoin="round"/>
<path d="M233.1 73.0L240.7 61.9M233.1 61.9L240.7 73.0M253.2 73.0L253.2 61.9L248.9 73.0L244.5 61.9L244.5 73.0M266.3 73.0L266.3 61.9L262.0 73.0L257.6 61.9L257.6 73.0M270.7 68.2L280.5 68.2M291.9 73.0L284.9 73.0L284.9 67.2L284.9 61.9L291.9 61.9M284.9 67.2L289.2 67.2M302.9 61.9L302.9 73.0L295.2 61.9L295.2 73.0M308.3 64.0L309.4 63.5L311.0 61.9L311.0 73.0M318.1 68.2L327.9 68.2M339.4 73.0L332.3 73.0L332.3 67.2L332.3 61.9L339.4 61.9M332.3 67.2L336.7 67.2M350.3 61.9L350.3 73.0L342.7 61.9L342.7 73.0M354.7 64.5L354.7 64.0L355.2 62.9L355.7 62.4L356.8 61.9L359.0 61.9L360.1 62.4L360.6 62.9L361.2 64.0L361.2 65.0L360.6 66.1L359.6 67.7L354.1 73.0L361.7 73.0" stroke="#00ff00" stroke-width="1.92" fill="none" stroke-linecap="round" stroke-linejoin="round"/>
<path d="M380.6 73.0L374.7 73.0L380.6 65.6L374.7 65.6" stroke="#00ff00" stroke-width="1.92" fill="none" stroke-linecap="round" stroke-linejoin="round"/>
<path d="M384.3 72.8L384.3 73.7L384.3 76.3L384.3 79.4M384.3 73.7L385.0 73.1L385.7 72.8L386.7 72.8L387.4 73.1L388.1 73.7L388.4 74.7L388.4 75.3L388.1 76.3L387.4 76.9L386.7 77.2L385.7 77.2L385.0 76.9L384.3 76.3M390.9 70.6L390.9 74.0L390.9 77.2M390.9 74.0L391.9 73.1L392.6 72.8L393.6 72.8L394.3 73.1L394.6 74.0L394.6 77.2M397.0 74.7L397.0 75.3L397.4 76.3L398.1 76.9L398.8 77.2L399.8 77.2L400.5 76.9L401.2 76.3L401.5 75.3L401.5 74.7L401.2 73.7L400.5 73.1L399.8 72.8L398.8 72.8L398.1 73.1L397.4 73.7L397.0 74.7M404.3 70.6L404.3 72.8L404.3 75.9L404.6 76.9L405.3 77.2L406.0 77.2M405.6 72.8L404.3 72.8L403.2 72.8" stroke="#00ff00" stroke-width="1.85" fill="none" stroke-linecap="round" stroke-linejoin="round"/>
<path d="M239.5 105.0L233.1 105.0L233.1 93.9M242.2 99.2L242.2 93.9M242.2 105.0L242.2 99.2L249.7 99.2L249.7 93.9M249.7 99.2L249.7 105.0" stroke="#ff00ff" stroke-width="1.92" fill="none" stroke-linecap="round" stroke-linejoin="round"/>
<path d="M269.2 105.0L263.1 105.0L269.2 97.6L263.1 97.6" stroke="#ff00ff" stroke-width="1.92" fill="none" stroke-linecap="round" stroke-linejoin="round"/>
<path d="M239.5 136.8L233.1 136.8L233.1 125.7M242.2 131.0L242.2 125.7M242.2 136.8L242.2 131.0L249.7 131.0L249.7 125.7M249.7 131.0L249.7 136.8" stroke="#ff00ff" stroke-width="1.92" fill="none" stroke-linecap="round" stroke-linejoin="round"/>
<path d="M269.2 136.8L263.1 136.8L269.2 129.4L263.1 129.4" stroke="#ff00ff" stroke-width="1.92" fill="none" stroke-linecap="round" stroke-linejoin="round"/>
<path d="M276.5 106.1L276.1 105.5L275.1 105.2L274.1 105.2L273.1 105.5L272.7 106.1L273.1 106.8L273.8 107.1L275.5 107.4L276.1 107.7L276.5 108.3L276.5 108.7L276.1 109.3L275.1 109.6L274.1 109.6L273.1 109.3L272.7 108.7M278.9 105.2L278.9 106.1L278.9 108.7L278.9 111.8M278.9 106.1L279.6 105.5L280.2 105.2L281.3 105.2L282.0 105.5L282.6 106.1L283.0 107.1L283.0 107.7L282.6 108.7L282.0 109.3L281.3 109.6L280.2 109.6L279.6 109.3L278.9 108.7M289.1 108.7L288.4 109.3L287.8 109.6L286.7 109.6L286.1 109.3L285.4 108.7L285.0 107.7L285.0 107.1L285.4 106.1L286.1 105.5L286.7 105.2L287.8 105.2L288.4 105.5L288.8 105.8L289.1 106.4L289.1 107.1L285.0 107.1M295.3 108.7L294.6 109.3L293.9 109.6L292.9 109.6L292.2 109.3L291.5 108.7L291.2 107.7L291.2 107.1L291.5 106.1L292.2 105.5L292.9 105.2L293.9 105.2L294.6 105.5L295.3 106.1" stroke="#ff00ff" stroke-width="1.85" fill="none" stroke-linecap="round" stroke-linejoin="round"/>
<path d="M272.7 137.1L272.7 138.0L272.7 140.6L272.7 143.7M272.7 138.0L273.4 137.4L274.1 137.1L275.1 137.1L275.8 137.4L276.5 138.0L276.8 139.0L276.8 139.6L276.5 140.6L275.8 141.2L275.1 141.5L274.1 141.5L273.4 141.2L272.7 140.6M279.3 134.9L279.3 138.3L279.3 141.5M279.3 138.3L280.3 137.4L281.0 137.1L282.0 137.1L282.7 137.4L283.0 138.3L283.0 141.5M285.4 139.0L285.4 139.6L285.8 140.6L286.5 141.2L287.2 141.5L288.2 141.5L288.9 141.2L289.6 140.6L289.9 139.6L289.9 139.0L289.6 138.0L288.9 137.4L288.2 137.1L287.2 137.1L286.5 137.4L285.8 138.0L285.4 139.0M292.7 134.9L292.7 137.1L292.7 140.2L293.0 141.2L293.7 141.5L294.4 141.5M294.0 137.1L292.7 137.1L291.6 137.1" stroke="#ff00ff" stroke-width="1.85" fill="none" stroke-linecap="round" stroke-linejoin="round"/>
<path d="M178.4 168.3L171.6 168.3L171.6 157.2M181.2 160.9L181.2 168.3M180.7 157.2L181.2 157.7L181.8 157.2L181.2 156.6L180.7 157.2M186.4 157.2L186.4 160.9L186.4 166.2L186.9 167.8L188.1 168.3L189.2 168.3M188.6 160.9L186.4 160.9L184.7 160.9M198.9 166.7L197.8 167.8L196.6 168.3L194.9 168.3L193.8 167.8L192.6 166.7L192.1 165.1L192.1 164.1L192.6 162.5L193.8 161.4L194.9 160.9L196.6 160.9L197.8 161.4L198.3 161.9L198.9 163.0L198.9 164.1L192.1 164.1M202.9 164.1L203.5 162.5L204.6 161.4L205.7 160.9L207.4 160.9M202.9 168.3L202.9 164.1L202.9 160.9M216.6 166.7L215.4 167.8L214.3 168.3L212.6 168.3L211.4 167.8L210.3 166.7L209.7 165.1L209.7 164.1L210.3 162.5L211.4 161.4L212.6 160.9L214.3 160.9L215.4 161.4L216.6 162.5L216.6 166.7L216.6 168.3M216.6 162.5L216.6 160.9M221.7 157.2L221.7 160.9L221.7 166.2L222.3 167.8L223.4 168.3L224.5 168.3M224.0 160.9L221.7 160.9L220.0 160.9M234.2 160.9L234.2 166.2L234.2 168.3M234.2 166.2L232.5 167.8L231.4 168.3L229.7 168.3L228.5 167.8L227.9 166.2L227.9 160.9M238.8 164.1L239.3 162.5L240.5 161.4L241.6 160.9L243.3 160.9M238.8 168.3L238.8 164.1L238.8 160.9M252.4 166.7L251.3 167.8L250.2 168.3L248.5 168.3L247.3 167.8L246.2 166.7L245.6 165.1L245.6 164.1L246.2 162.5L247.3 161.4L248.5 160.9L250.2 160.9L251.3 161.4L251.9 161.9L252.4 163.0L252.4 164.1L245.6 164.1" stroke="#000" stroke-width="1.92" fill="none" stroke-linecap="round" stroke-linejoin="round"/>
<path d="M171.7 194.6L171.7 189.3M171.7 200.4L171.7 194.6L179.4 194.6L179.4 189.3M179.4 194.6L179.4 200.4M189.4 200.4L183.3 200.4L189.4 193.0L183.3 193.0M193.3 194.6L193.3 189.3L198.3 189.3L200.0 189.8L200.5 190.3L201.1 191.4L201.1 192.5L200.5 193.5L200.0 194.0L198.3 194.6L197.2 194.6L193.3 194.6L193.3 200.4M197.2 194.6L201.1 200.4M210.0 196.2L212.7 196.2L212.7 197.8L212.2 198.8L211.1 199.9L210.0 200.4L207.7 200.4L206.6 199.9L205.5 198.8L205.0 197.8L204.4 196.2L204.4 193.5L205.0 191.9L205.5 190.9L206.6 189.8L207.7 189.3L210.0 189.3L211.1 189.8L212.2 190.9L212.7 191.9" stroke="#0000ff" stroke-width="1.92" fill="none" stroke-linecap="round" stroke-linejoin="round"/>
<path d="M151.3 60.9L157.6 73.2L145 73.2Z" stroke="#00ff00" stroke-width="2" fill="none"/>
<circle cx="151.3" cy="98.8" r="6.7" fill="#ff00ff"/>
<circle cx="151.3" cy="130.1" r="6.2" stroke="#ff00ff" stroke-width="2" fill="none"/>
<path d="M144.6 155.9l13.4 13.4M144.6 169.3l13.4 -13.4" stroke="#000" stroke-width="2" fill="none"/>
<rect x="144.8" y="187.6" width="13" height="13" stroke="#0000ff" stroke-width="2" fill="none"/>
<g transform="translate(42.6 400) rotate(-90)" stroke="#000" stroke-width="2" fill="none" stroke-linecap="round" stroke-linejoin="round">
<path d="M11.8 -13.6L11.1 -12.9L11.8 -12.2L12.5 -12.9L12.5 -13.6L11.8 -14.3L10.4 -14.3L9.1 -13.6L8.4 -12.9L7.7 -11.6L7.0 -9.5L5.0 0.0L4.3 2.7L3.6 4.1L2.3 4.8L0.9 4.8L0.2 4.1L0.2 3.4L0.9 2.7L1.6 3.4L0.9 4.1M4.3 -9.5L7.0 -9.5L11.1 -9.5"/>
<path d="M13.9 3.5L14.8 3.1L16.1 1.9L16.1 10.3M21.9 9.9L22.4 10.3L22.8 9.9L22.4 9.5L21.9 9.9M26.4 3.9L26.4 3.5L26.8 2.7L27.3 2.3L28.2 1.9L30.0 1.9L30.9 2.3L31.3 2.7L31.8 3.5L31.8 4.3L31.3 5.1L30.4 6.3L26.0 10.3L32.2 10.3M35.3 6.3L35.3 4.7M35.3 10.3L35.3 6.3L36.7 5.1L37.6 4.7L38.9 4.7L39.8 5.1L40.3 6.3L40.3 10.3M40.3 6.3L41.6 5.1L42.5 4.7L43.8 4.7L44.7 5.1L45.2 6.3L45.2 10.3M48.7 6.3L48.7 4.7M48.7 10.3L48.7 6.3L50.1 5.1L51.0 4.7L52.3 4.7L53.2 5.1L53.7 6.3L53.7 10.3M53.7 6.3L55.0 5.1L55.9 4.7L57.2 4.7L58.1 5.1L58.6 6.3L58.6 10.3"/>
<path d="M61.9 4.8L73.3 -17.0"/>
<path d="M87.2 -13.6L86.5 -12.9L87.2 -12.2L87.9 -12.9L87.9 -13.6L87.2 -14.3L85.8 -14.3L84.5 -13.6L83.8 -12.9L83.1 -11.6L82.4 -9.5L80.4 0.0L79.7 2.7L79.0 4.1L77.7 4.8L76.3 4.8L75.6 4.1L75.6 3.4L76.3 2.7L77.0 3.4L76.3 4.1M79.7 -9.5L82.4 -9.5L86.5 -9.5"/>
<path d="M88.7 3.9L88.7 3.5L89.2 2.7L89.6 2.3L90.4 1.9L92.2 1.9L93.0 2.3L93.5 2.7L93.9 3.5L93.9 4.3L93.5 5.1L92.6 6.3L88.3 10.3L94.3 10.3M101.2 10.3L101.2 7.5L101.2 1.9L96.9 7.5L101.2 7.5L103.3 7.5M107.2 4.7L104.6 13.1M106.8 6.3L106.3 8.3L106.3 9.5L107.2 10.3L108.1 10.3L108.9 9.9L109.8 9.1L110.7 7.5M111.5 4.7L110.7 7.5L110.2 9.1L110.2 9.9L110.7 10.3L111.5 10.3L112.4 9.5L112.8 8.7M115.4 6.3L115.4 4.7M115.4 10.3L115.4 6.3L116.7 5.1L117.5 4.7L118.8 4.7L119.7 5.1L120.1 6.3L120.1 10.3M120.1 6.3L121.4 5.1L122.3 4.7L123.5 4.7L124.4 5.1L124.8 6.3L124.8 10.3"/>
</g>
</svg>
</body></html>
